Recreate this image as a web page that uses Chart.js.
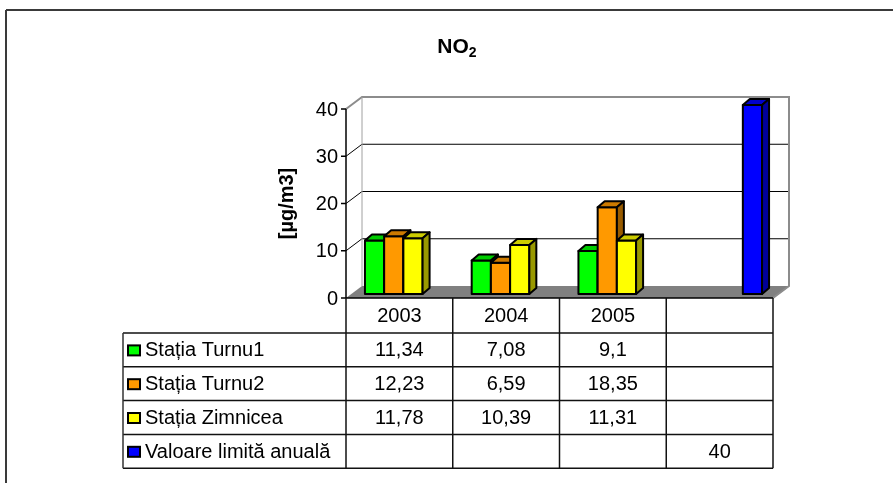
<!DOCTYPE html>
<html>
<head>
<meta charset="utf-8">
<script src="https://cdn.jsdelivr.net/npm/chart.js@4.4.1/dist/chart.umd.min.js"></script>
<style>
  html, body { margin: 0; padding: 0; background: #fff; }
  canvas { display: block; }
</style>
</head>
<body>
<canvas id="chart" width="893" height="483"></canvas>
<script>
// NO2 annual means per station, with the annual limit value
const years = ['2003', '2004', '2005', ''];
const turnu1 = [11.34, 7.08, 9.1, null];
const turnu2 = [12.23, 6.59, 18.35, null];
const zimnicea = [11.78, 10.39, 11.31, null];
const limitValue = [null, null, null, 40];
const seriesNames = ['Stația Turnu1', 'Stația Turnu2', 'Stația Zimnicea', 'Valoare limită anuală'];
const seriesValues = [turnu1, turnu2, zimnicea, limitValue];
const seriesColors = ['#00ff00', '#ff9900', '#ffff00', '#0000ff'];
const yTicks = [0, 10, 20, 30, 40];
const titleMain = 'NO';
const titleSub = '2';
const yAxisTitle = '[µg/m3]';

const FONT = '"Liberation Sans", Arial, sans-serif';
const TEXT_PX = 20;
const WALL = { dx: 16, dy: -12 };   // depth of the 3-D plot box
const BAR = { dx: 4, dy: -4 };      // front face of the bars inside the box
const DEPTH = { dx: 7, dy: -6 };    // depth of each bar

function shade(hex, f) {
  const n = parseInt(hex.slice(1), 16);
  const r = Math.round(((n >> 16) & 255) * f);
  const g = Math.round(((n >> 8) & 255) * f);
  const b = Math.round((n & 255) * f);
  return `rgb(${r},${g},${b})`;
}
function fmt(v) {
  return v == null ? '' : String(v).replace('.', ',');
}
function poly(ctx, pts, fill, stroke, lw) {
  ctx.beginPath();
  ctx.moveTo(pts[0][0], pts[0][1]);
  for (let i = 1; i < pts.length; i++) ctx.lineTo(pts[i][0], pts[i][1]);
  ctx.closePath();
  if (fill) { ctx.fillStyle = fill; ctx.fill(); }
  if (stroke) { ctx.strokeStyle = stroke; ctx.lineWidth = lw || 1; ctx.stroke(); }
}
function line(ctx, x1, y1, x2, y2, color, lw) {
  ctx.beginPath();
  ctx.moveTo(x1, y1);
  ctx.lineTo(x2, y2);
  ctx.strokeStyle = color;
  ctx.lineWidth = lw;
  ctx.stroke();
}

const box3d = {
  id: 'box3d',
  beforeDatasetsDraw(chart) {
    const ctx = chart.ctx;
    const a = chart.chartArea;
    const ys = chart.scales.y;
    const xs = chart.scales.x;
    ctx.save();

    // outer frame of the chart object
    line(ctx, 6, 10, 893, 10, '#3a3a3a', 2);
    line(ctx, 6, 10, 6, 483, '#3a3a3a', 2);

    // title with subscript
    ctx.fillStyle = '#000';
    ctx.textBaseline = 'alphabetic';
    ctx.font = `bold 21px ${FONT}`;
    const wMain = ctx.measureText(titleMain).width;
    ctx.font = `bold 14px ${FONT}`;
    const wSub = ctx.measureText(titleSub).width;
    const tx = 457 - (wMain + wSub) / 2;
    ctx.font = `bold 21px ${FONT}`;
    ctx.textAlign = 'left';
    ctx.fillText(titleMain, tx, 53);
    ctx.font = `bold 14px ${FONT}`;
    ctx.fillText(titleSub, tx + wMain, 57);

    // y axis title
    ctx.save();
    ctx.translate(287, (a.top + a.bottom) / 2);
    ctx.rotate(-Math.PI / 2);
    ctx.font = `bold ${TEXT_PX}px ${FONT}`;
    ctx.textAlign = 'center';
    ctx.textBaseline = 'middle';
    ctx.fillText(yAxisTitle, 0, 0);
    ctx.restore();

    const L = a.left, R = a.right, T = a.top, B = a.bottom;
    // back wall and side wall
    poly(ctx, [[L + WALL.dx, T + WALL.dy], [R + WALL.dx, T + WALL.dy], [R + WALL.dx, B + WALL.dy], [L + WALL.dx, B + WALL.dy]], '#fff');
    poly(ctx, [[L, T], [L + WALL.dx, T + WALL.dy], [L + WALL.dx, B + WALL.dy], [L, B]], '#fff');
    // floor
    poly(ctx, [[L, B], [R, B], [R + WALL.dx, B + WALL.dy], [L + WALL.dx, B + WALL.dy]], '#808080');

    // gridlines on the walls
    yTicks.forEach(t => {
      const y = ys.getPixelForValue(t);
      if (t === yTicks[0] || t === yTicks[yTicks.length - 1]) return;
      line(ctx, L, y, L + WALL.dx, y + WALL.dy, '#000', 1);
      line(ctx, L + WALL.dx, y + WALL.dy, R + WALL.dx, y + WALL.dy, '#000', 1);
    });
    // wall edges
    ctx.lineJoin = 'miter';
    ctx.beginPath();
    ctx.moveTo(L, T);
    ctx.lineTo(L + WALL.dx, T + WALL.dy);
    ctx.lineTo(R + WALL.dx, T + WALL.dy);
    ctx.lineTo(R + WALL.dx, B + WALL.dy);
    ctx.lineTo(R, B);
    ctx.strokeStyle = '#8c8c8c';
    ctx.lineWidth = 2;
    ctx.stroke();
    line(ctx, L + WALL.dx, T + WALL.dy, L + WALL.dx, B + WALL.dy, '#a0a0a0', 1);

    // value axis with ticks and labels
    line(ctx, L, T, L, B, '#000', 1.5);
    ctx.font = `${TEXT_PX}px ${FONT}`;
    ctx.fillStyle = '#000';
    ctx.textAlign = 'right';
    ctx.textBaseline = 'middle';
    yTicks.forEach(t => {
      const y = ys.getPixelForValue(t);
      line(ctx, L - 5, y, L, y, '#000', 1.5);
      ctx.fillText(String(t), L - 8, y + 1);
    });

    // data table under the plot
    const half = (xs.getPixelForValue(1) - xs.getPixelForValue(0)) / 2;
    const colEdges = years.map((_, i) => xs.getPixelForValue(i) - half);
    colEdges.push(xs.getPixelForValue(years.length - 1) + half);
    const headTop = B, headBottom = B + 35, rowH = 33.8;
    const tableLeft = 123;
    const rowEdges = [headBottom];
    for (let i = 1; i <= seriesNames.length; i++) rowEdges.push(headBottom + i * rowH);
    const tableBottom = rowEdges[rowEdges.length - 1];

    line(ctx, L, headTop, R, headTop, '#000', 1.5);
    colEdges.forEach(x => line(ctx, x, headTop, x, tableBottom, '#111', 1.5));
    rowEdges.forEach(y => line(ctx, tableLeft, y, R, y, '#111', 1.5));
    line(ctx, tableLeft, headBottom, tableLeft, tableBottom, '#333', 1.5);

    ctx.font = `${TEXT_PX}px ${FONT}`;
    ctx.fillStyle = '#000';
    ctx.textAlign = 'center';
    ctx.textBaseline = 'middle';
    years.forEach((yr, i) => ctx.fillText(yr, xs.getPixelForValue(i), (headTop + headBottom) / 2 + 1));

    seriesNames.forEach((name, r) => {
      const yMid = (rowEdges[r] + rowEdges[r + 1]) / 2 + 1;
      // legend key
      ctx.fillStyle = '#000';
      ctx.fillRect(127, yMid - 6.5, 14, 12);
      ctx.fillStyle = seriesColors[r];
      ctx.fillRect(129, yMid - 4.5, 10, 8);
      ctx.fillStyle = '#000';
      ctx.textAlign = 'left';
      ctx.fillText(name, 145, yMid);
      ctx.textAlign = 'center';
      seriesValues[r].forEach((v, c) => {
        if (v != null) ctx.fillText(fmt(v), xs.getPixelForValue(c), yMid);
      });
    });
    ctx.restore();
  },
  // the 3-D boxes are painted below, left to right, so skip the flat bars
  beforeDatasetDraw() {
    return false;
  },
  afterDatasetsDraw(chart) {
    const ctx = chart.ctx;
    ctx.save();
    ctx.translate(BAR.dx, BAR.dy);
    ctx.lineJoin = 'round';
    seriesValues.forEach((vals, di) => {
      const meta = chart.getDatasetMeta(di);
      const color = seriesColors[di];
      meta.data.forEach((el, i) => {
        if (vals[i] == null) return;
        const p = el.getProps(['x', 'y', 'base', 'width'], true);
        const x0 = p.x - p.width / 2, x1 = p.x + p.width / 2;
        const yt = p.y, yb = p.base;
        poly(ctx, [[x0, yt], [x1, yt], [x1, yb], [x0, yb]], color, '#000', 2);
        poly(ctx, [[x0, yt], [x0 + DEPTH.dx, yt + DEPTH.dy], [x1 + DEPTH.dx, yt + DEPTH.dy], [x1, yt]], shade(color, 0.8), '#000', 2);
        poly(ctx, [[x1, yt], [x1 + DEPTH.dx, yt + DEPTH.dy], [x1 + DEPTH.dx, yb + DEPTH.dy], [x1, yb]], shade(color, 0.6), '#000', 2);
      });
    });
    ctx.restore();
  }
};

new Chart(document.getElementById('chart'), {
  type: 'bar',
  data: {
    labels: years,
    datasets: seriesValues.map((vals, i) => ({
      label: seriesNames[i],
      data: vals,
      backgroundColor: seriesColors[i],
      borderColor: '#000',
      borderWidth: 2,
      borderSkipped: false,
      clip: false,
      categoryPercentage: 0.72,
      barPercentage: 1
    }))
  },
  options: {
    responsive: false,
    animation: false,
    events: [],
    layout: { padding: { left: 346, right: 120, top: 109, bottom: 185 } },
    scales: {
      x: { display: false, offset: true },
      y: { display: false, min: 0, max: 40 }
    },
    plugins: {
      legend: { display: false },
      tooltip: { enabled: false },
      title: { display: false }
    }
  },
  plugins: [box3d]
});
</script>
</body>
</html>
